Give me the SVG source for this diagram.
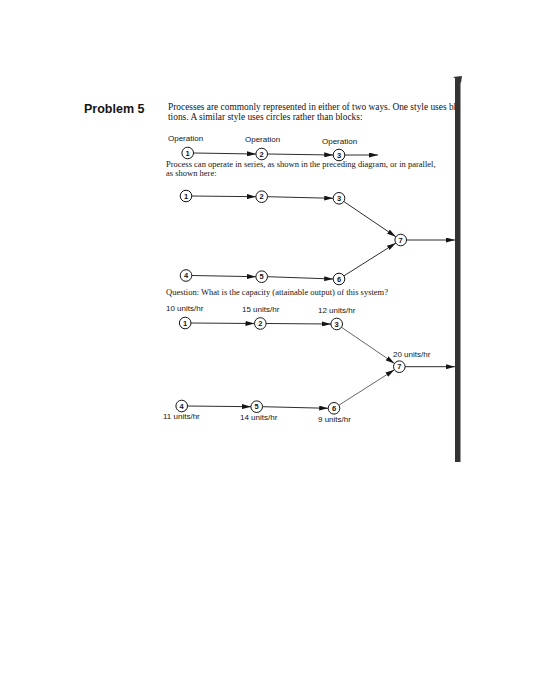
<svg xmlns="http://www.w3.org/2000/svg" width="550" height="700" viewBox="0 0 550 700">
<style>
.para{font-family:"Liberation Serif","Times New Roman",serif;fill:#151515}
.lbl{font-family:"Liberation Sans",Arial,sans-serif;font-size:8px;fill:#151515}
.num{font-family:"Liberation Sans",Arial,sans-serif;font-size:7.5px;font-weight:bold;fill:#151515;text-anchor:middle}
.node circle{fill:#fff;stroke:#151515;stroke-width:1}
.con line{stroke:#151515;stroke-width:0.9;fill:none}
.con line.arr{marker-end:url(#ah)}
.con line.lt{stroke:#555}
</style>
<defs>
<marker id="ah" markerUnits="userSpaceOnUse" markerWidth="9" markerHeight="5" refX="9" refY="2.5" orient="auto">
<path d="M0,0 L9,2.5 L0,5 Z" fill="#151515"/>
</marker>
</defs>
<rect width="550" height="700" fill="#fff"/>

<!-- heading and texts -->
<text x="84" y="113" font-family="'Liberation Sans',Arial,sans-serif" font-size="12.5" font-weight="bold" fill="#151515">Problem 5</text>
<text class="para" x="168" y="110" font-size="9.4">Processes are commonly represented in either of two ways. One style uses bl</text>
<text class="para" x="168" y="120" font-size="9.4">tions. A similar style uses circles rather than blocks:</text>

<text class="lbl" x="168" y="141">Operation</text>
<text class="lbl" x="245" y="142">Operation</text>
<text class="lbl" x="322" y="144">Operation</text>

<text class="para" x="166" y="167" font-size="8.5">Process can operate in series, as shown in the preceding diagram, or in parallel,</text>
<text class="para" x="166" y="176" font-size="8.5">as shown here:</text>

<text class="para" x="166" y="295" font-size="8.5">Question: What is the capacity (attainable output) of this system?</text>

<text class="lbl" x="166" y="311">10 units/hr</text>
<text class="lbl" x="242" y="312">15 units/hr</text>
<text class="lbl" x="318" y="313">12 units/hr</text>
<text class="lbl" x="393" y="357">20 units/hr</text>
<text class="lbl" x="163" y="419">11 units/hr</text>
<text class="lbl" x="240" y="420">14 units/hr</text>
<text class="lbl" x="318" y="422">9 units/hr</text>

<!-- connectors -->
<g class="con" id="connectors">
<!-- series -->
<line class="arr" x1="193.5" y1="153" x2="256" y2="154"/>
<line class="arr" x1="267.5" y1="154" x2="333.2" y2="155"/>
<line class="arr" x1="344.8" y1="155" x2="378" y2="155"/>
<!-- parallel -->
<line class="arr" x1="192" y1="196" x2="256" y2="196.7"/>
<line class="arr" x1="267.5" y1="196.7" x2="333.2" y2="198.3"/>
<line class="arr" x1="343.8" y1="201.5" x2="395.9" y2="236.8"/>
<line class="arr" x1="192" y1="275.5" x2="256" y2="276.7"/>
<line class="arr" x1="267.5" y1="276.7" x2="333.2" y2="279"/>
<line class="arr" x1="343.9" y1="275.9" x2="395.8" y2="243.1"/>
<line class="arr" x1="406.5" y1="240" x2="455" y2="240"/>
<!-- question -->
<line class="arr" x1="191" y1="323" x2="254.5" y2="323.5"/>
<line class="arr" x1="266" y1="323.5" x2="331" y2="324"/>
<line class="arr lt" x1="341.5" y1="327.3" x2="394.5" y2="363.4"/>
<line class="arr" x1="187.5" y1="406" x2="251" y2="406.7"/>
<line class="arr" x1="262.5" y1="406.7" x2="328.2" y2="408.3"/>
<line class="arr lt" x1="338.9" y1="405.2" x2="394.4" y2="369.8"/>
<line class="arr" x1="405" y1="366.7" x2="455" y2="366.7"/>
</g>

<!-- series nodes -->
<g class="node" id="s1"><circle cx="187.7" cy="153" r="5.8"/><text class="num" x="187.7" y="155.7">1</text></g>
<g class="node" id="s2"><circle cx="261.7" cy="154" r="5.8"/><text class="num" x="261.7" y="156.7">2</text></g>
<g class="node" id="s3"><circle cx="339" cy="155" r="5.8"/><text class="num" x="339" y="157.7">3</text></g>

<!-- parallel nodes -->
<g class="node" id="p1"><circle cx="186" cy="196" r="5.8"/><text class="num" x="186" y="198.7">1</text></g>
<g class="node" id="p2"><circle cx="261.7" cy="196.7" r="5.8"/><text class="num" x="261.7" y="199.4">2</text></g>
<g class="node" id="p3"><circle cx="339" cy="198.3" r="5.8"/><text class="num" x="339" y="201">3</text></g>
<g class="node" id="p4"><circle cx="186" cy="275.5" r="5.8"/><text class="num" x="186" y="278.2">4</text></g>
<g class="node" id="p5"><circle cx="261.7" cy="276.7" r="5.8"/><text class="num" x="261.7" y="279.4">5</text></g>
<g class="node" id="p6"><circle cx="339" cy="279" r="5.8"/><text class="num" x="339" y="281.7">6</text></g>
<g class="node" id="p7"><circle cx="400.7" cy="240" r="5.8"/><text class="num" x="400.7" y="242.7">7</text></g>

<!-- question nodes -->
<g class="node" id="q1"><circle cx="185.2" cy="323" r="5.8"/><text class="num" x="185.2" y="325.7">1</text></g>
<g class="node" id="q2"><circle cx="260.3" cy="323.5" r="5.8"/><text class="num" x="260.3" y="326.2">2</text></g>
<g class="node" id="q3"><circle cx="336.7" cy="324" r="5.8"/><text class="num" x="336.7" y="326.7">3</text></g>
<g class="node" id="q4"><circle cx="181.7" cy="406" r="5.8"/><text class="num" x="181.7" y="408.7">4</text></g>
<g class="node" id="q5"><circle cx="256.7" cy="406.7" r="5.8"/><text class="num" x="256.7" y="409.4">5</text></g>
<g class="node" id="q6"><circle cx="334" cy="408.3" r="5.8"/><text class="num" x="334" y="411">6</text></g>
<g class="node" id="q7"><circle cx="399.3" cy="366.7" r="5.8"/><text class="num" x="399.3" y="369.4">7</text></g>

<!-- right binding bar -->
<g id="bar">
<rect x="455" y="78" width="5.5" height="384" fill="#333"/>
<path d="M453,77 L462,76 L461,83 L458,80 Z" fill="#333"/>
</g>
</svg>
